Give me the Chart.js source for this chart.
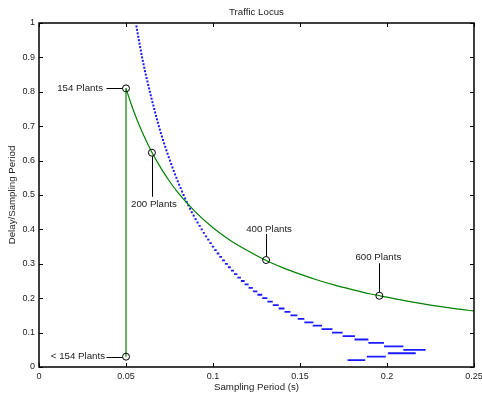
<!DOCTYPE html>
<html>
<head>
<meta charset="utf-8">
<script src="https://cdn.jsdelivr.net/npm/chart.js@4.4.1/dist/chart.umd.min.js"></script>
<style>
  html, body { margin: 0; padding: 0; background: #fff; }
  #wrap { width: 482px; height: 394px; }
</style>
</head>
<body>
<div id="wrap"><canvas id="c" width="482" height="394"></canvas></div>
<script>
// ---------------- DATA ----------------
const chartTitle = 'Traffic Locus';
const xAxisTitle = 'Sampling Period (s)';
const yAxisTitle = 'Delay/Sampling Period';

const xTickValues = [0, 0.05, 0.1, 0.15, 0.2, 0.25];
const xTickLabels = ['0', '0.05', '0.1', '0.15', '0.2', '0.25'];
const yTickValues = [0, 0.1, 0.2, 0.3, 0.4, 0.5, 0.6, 0.7, 0.8, 0.9, 1];
const yTickLabels = ['0', '0.1', '0.2', '0.3', '0.4', '0.5', '0.6', '0.7', '0.8', '0.9', '1'];

// green locus: vertical part at 0.05 s
const greenVertX = [0.05, 0.05];
const greenVertY = [0.03, 0.81];
// green locus: curve
const greenX = [0.05, 0.0525, 0.055, 0.0575, 0.06, 0.065, 0.07, 0.075, 0.08, 0.09, 0.10, 0.11, 0.12,
                0.13, 0.14, 0.15, 0.16, 0.17, 0.18, 0.19, 0.20, 0.21, 0.22, 0.23, 0.24, 0.25];
const greenY = [0.81, 0.771, 0.736, 0.704, 0.675, 0.623, 0.579, 0.540, 0.506, 0.450, 0.405, 0.368, 0.338,
                0.311, 0.289, 0.270, 0.253, 0.238, 0.225, 0.213, 0.203, 0.193, 0.184, 0.176, 0.169, 0.163];

// blue locus, upper part: single dots (one per delay level)
const blueDotY = [0.99,0.98,0.97,0.96,0.95,0.94,0.93,0.92,0.91,0.90,0.89,0.88,0.87,0.86,0.85,0.84,0.83,0.82,0.81,0.80,
                  0.79,0.78,0.77,0.76,0.75,0.74,0.73,0.72,0.71,0.70,0.69,0.68,0.67,0.66,0.65,0.64,0.63,0.62,0.61,0.60,
                  0.59,0.58,0.57,0.56,0.55,0.54,0.53,0.52,0.51,0.50,0.49,0.48,0.47,0.46,0.45,0.44,0.43];
const blueDotX = [0.05602,0.05635,0.05670,0.05705,0.05740,0.05776,0.05813,0.05850,0.05887,0.05926,
                  0.05967,0.06008,0.06050,0.06093,0.06137,0.06182,0.06229,0.06276,0.06325,0.06374,
                  0.06422,0.06471,0.06521,0.06572,0.06623,0.06674,0.06726,0.06779,0.06832,0.06888,
                  0.06945,0.07004,0.07065,0.07127,0.07190,0.07255,0.07321,0.07388,0.07457,0.07528,
                  0.07599,0.07670,0.07744,0.07820,0.07897,0.07975,0.08055,0.08137,0.08221,0.08307,
                  0.08396,0.08488,0.08583,0.08681,0.08782,0.08889,0.08999];

// blue locus, lower part: horizontal runs (level, start, end)
const blueDashY = [0.42,0.41,0.40,0.39,0.38,0.37,0.36,0.35,0.34,0.33,0.32,0.31,0.30,0.29,0.28,0.27,0.26,0.25,0.24,0.23,
                   0.22,0.21,0.20,0.19,0.18,0.17,0.16,0.15,0.14,0.13,0.12,0.11,0.10,0.09,0.08,0.07,0.06,0.05,
                   0.04,0.03,0.02];
const blueDashX0 = [0.09055,0.09172,0.09293,0.09413,0.09535,0.09661,0.09792,0.09929,0.10069,0.10213,
                    0.10363,0.10520,0.10685,0.10856,0.11028,0.11209,0.11400,0.11603,0.11818,0.12046,
                    0.12289,0.12550,0.12829,0.13127,0.13436,0.13774,0.1411,0.1445,0.1487,0.1525,
                    0.1573,0.1624,0.1684,0.1745,0.1813,0.1893,0.1983,0.2094,
                    0.2005,0.1884,0.1773];
const blueDashX1 = [0.09172,0.09293,0.09413,0.09535,0.09661,0.09792,0.09929,0.10069,0.10213,0.10363,
                    0.10520,0.10685,0.10856,0.11028,0.11209,0.11400,0.11603,0.11818,0.12046,0.12289,
                    0.12550,0.12829,0.13127,0.13436,0.13774,0.1411,0.1445,0.1485,0.1525,0.1577,
                    0.1627,0.1687,0.1745,0.1816,0.1893,0.1983,0.2094,0.2222,
                    0.2165,0.1993,0.1875];

// annotated points
const annotLabels = ['154 Plants', '200 Plants', '400 Plants', '600 Plants', '< 154 Plants'];
const annotX = [0.05, 0.0649, 0.1305, 0.1956, 0.05];
const annotY = [0.81, 0.623, 0.311, 0.207, 0.03];

// ---------------- LAYOUT / STYLE (not data) ----------------
const annotLayout = [
  { kind: 'left', lineLen: 16, gap: 3.5 },
  { kind: 'down', lineLen: 44, textDy: 52, textDx: 2 },
  { kind: 'up',   lineLen: 26, textDy: -31, textDx: 3 },
  { kind: 'up',   lineLen: 32.5, textDy: -38, textDx: -1 },
  { kind: 'left', lineLen: 16, gap: 1.5 }
];
const FONT = '"Liberation Sans", Arial, Helvetica, sans-serif';
const TEXT_COLOR = '#222';
const BLUE = '#1a1aff';

// ---------------- BUILD DATASETS ----------------
const greenVert = greenVertX.map((x, i) => ({ x, y: greenVertY[i] }));
const greenCurve = greenX.map((x, i) => ({ x, y: greenY[i] }));
const blueDots = blueDotX.map((x, i) => ({ x, y: blueDotY[i] }));
const blueDashes = [];
blueDashY.forEach((y, i) => {
  blueDashes.push({ x: blueDashX0[i], y });
  blueDashes.push({ x: blueDashX1[i], y });
  blueDashes.push({ x: blueDashX1[i], y: null });
});
const markers = annotX.map((x, i) => ({ x, y: annotY[i] }));

const overlay = {
  id: 'overlay',
  afterDraw(chart) {
    const ctx = chart.ctx;
    const a = chart.chartArea;
    const xs = chart.scales.x, ys = chart.scales.y;
    ctx.save();
    ctx.strokeStyle = '#000';
    ctx.lineWidth = 1.5;
    ctx.strokeRect(a.left, a.top, a.right - a.left, a.bottom - a.top);
    ctx.lineWidth = 1;
    const tl = 4;
    ctx.beginPath();
    xTickValues.forEach(v => {
      const px = Math.round(xs.getPixelForValue(v)) + 0.5;
      ctx.moveTo(px, a.bottom); ctx.lineTo(px, a.bottom - tl);
      ctx.moveTo(px, a.top); ctx.lineTo(px, a.top + tl);
    });
    yTickValues.forEach(v => {
      const py = Math.round(ys.getPixelForValue(v)) + 0.5;
      ctx.moveTo(a.left, py); ctx.lineTo(a.left + tl, py);
      ctx.moveTo(a.right, py); ctx.lineTo(a.right - tl, py);
    });
    ctx.stroke();
    ctx.fillStyle = TEXT_COLOR;
    ctx.font = '9px ' + FONT;
    ctx.textAlign = 'center';
    ctx.textBaseline = 'middle';
    xTickValues.forEach((v, i) => {
      ctx.fillText(xTickLabels[i], xs.getPixelForValue(v), a.bottom + 10);
    });
    ctx.textAlign = 'right';
    yTickValues.forEach((v, i) => {
      ctx.fillText(yTickLabels[i], a.left - 4, ys.getPixelForValue(v));
    });
    ctx.font = '9.7px ' + FONT;
    ctx.textAlign = 'center';
    ctx.fillText(chartTitle, (a.left + a.right) / 2, 12.5);
    ctx.fillText(xAxisTitle, (a.left + a.right) / 2, a.bottom + 20);
    ctx.save();
    ctx.translate(12.5, (a.top + a.bottom) / 2);
    ctx.rotate(-Math.PI / 2);
    ctx.fillText(yAxisTitle, 0, 0);
    ctx.restore();
    ctx.strokeStyle = '#000';
    ctx.lineWidth = 1;
    annotLabels.forEach((lab, i) => {
      const L = annotLayout[i];
      const px = xs.getPixelForValue(annotX[i]);
      const py = ys.getPixelForValue(annotY[i]);
      ctx.beginPath();
      if (L.kind === 'left') {
        const yy = Math.round(py) + 0.5;
        ctx.moveTo(px - 3.5, yy); ctx.lineTo(px - 3.5 - L.lineLen, yy);
        ctx.stroke();
        ctx.textAlign = 'right';
        ctx.fillText(lab, px - 3.5 - L.lineLen - L.gap, py);
      } else if (L.kind === 'down') {
        const xx = Math.round(px) + 0.5;
        ctx.moveTo(xx, py + 3.5); ctx.lineTo(xx, py + L.lineLen);
        ctx.stroke();
        ctx.textAlign = 'center';
        ctx.fillText(lab, px + L.textDx, py + L.textDy);
      } else {
        const xx = Math.round(px) + 0.5;
        ctx.moveTo(xx, py - 3.5); ctx.lineTo(xx, py - L.lineLen);
        ctx.stroke();
        ctx.textAlign = 'center';
        ctx.fillText(lab, px + L.textDx, py + L.textDy);
      }
    });
    ctx.restore();
  }
};

new Chart(document.getElementById('c'), {
  type: 'scatter',
  data: {
    datasets: [
      { data: markers, showLine: false, pointStyle: 'circle', pointRadius: 3.5,
        pointBorderColor: '#000', pointBackgroundColor: 'rgba(0,0,0,0)', pointBorderWidth: 1, order: 0 },
      { data: greenVert, showLine: true, borderColor: '#008000', borderWidth: 1.2, pointRadius: 0, order: 1 },
      { data: greenCurve, showLine: true, borderColor: '#008000', borderWidth: 1.2, pointRadius: 0,
        cubicInterpolationMode: 'monotone', order: 1 },
      { data: blueDots, showLine: false, pointStyle: 'rect', pointRadius: 1.42,
        pointBackgroundColor: BLUE, pointBorderWidth: 0, order: 2 },
      { data: blueDashes, showLine: true, spanGaps: false, borderColor: BLUE, borderWidth: 1.8,
        borderCapStyle: 'butt', pointRadius: 0, order: 2 }
    ]
  },
  options: {
    responsive: false,
    animation: false,
    devicePixelRatio: 1,
    layout: { padding: { left: 39, top: 23, right: 8, bottom: 27 } },
    plugins: { legend: { display: false }, tooltip: { enabled: false }, title: { display: false } },
    scales: {
      x: { type: 'linear', min: 0, max: 0.25, display: false },
      y: { type: 'linear', min: 0, max: 1, display: false }
    }
  },
  plugins: [overlay]
});
</script>
</body>
</html>
